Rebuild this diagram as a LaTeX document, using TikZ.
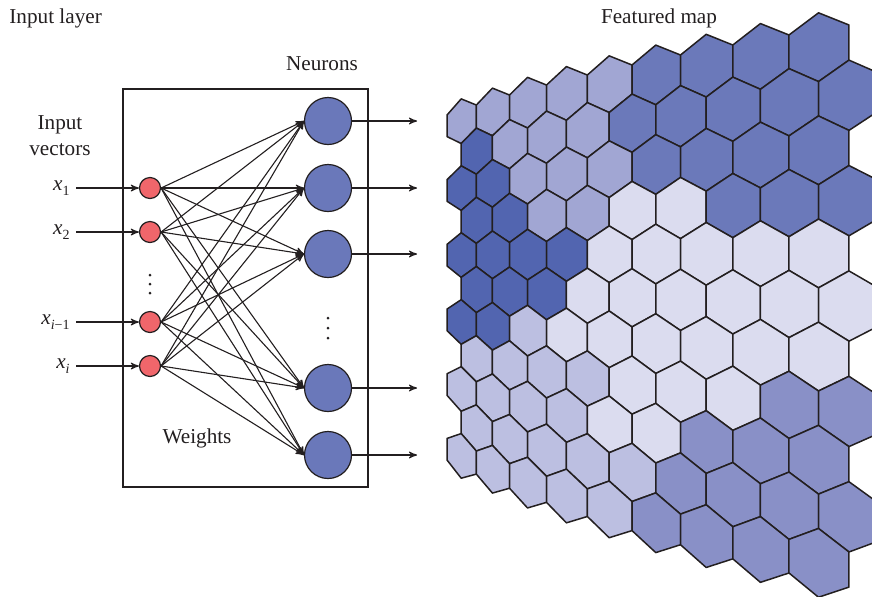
\documentclass[tikz,border=0pt]{standalone}
\usepackage{fontspec}
\setmainfont{Liberation Serif}
\usetikzlibrary{arrows}
\usetikzlibrary{positioning}

\definecolor{ink}{RGB}{35,31,32}
\definecolor{inred}{RGB}{240,102,107}
\definecolor{neublue}{RGB}{106,120,186}
\definecolor{mapD}{RGB}{82,101,176}
\definecolor{mapL}{RGB}{161,166,211}
\definecolor{mapM}{RGB}{107,121,186}
\definecolor{mapV}{RGB}{219,220,239}
\definecolor{mapP}{RGB}{188,191,225}
\definecolor{mapQ}{RGB}{137,144,199}

\newcommand{\xsub}[1]{\textit{x}\raisebox{-0.5ex}{\fontsize{7}{8}\selectfont #1}}

\begin{document}
\begin{tikzpicture}[x=0.5pt,y=-0.5pt,>=stealth',
    declare function={mapx(\p)=447+13.71*\p+0.479*\p*\p;
      mapy(\p,\q)=287.5+1.03*\p-\q*(18.67+0.653*\p);}]
		\tikzset{lbl/.style = {text=ink, inner sep=2pt, font=\fontsize{10.6}{13}\selectfont},
			inp/.style = {shape=circle, draw=ink, fill=inred, line width=0.6pt, minimum size=10.5pt, inner sep=0pt},
			neuron/.style = {shape=circle, draw=ink, fill=neublue, line width=0.6pt, minimum size=23.5pt, inner sep=0pt},
			wire/.style = {->, draw=ink, line width=0.55pt},
			cell/.style = {fill=#1, draw=ink, line width=0.75pt, line join=round}}
		\useasboundingbox (0,0) rectangle (872,596);

		% headings
		\node[lbl, anchor=west] (title) at (5,18) {Input layer};
		\node[lbl] (neulbl) at (322,64) {Neurons};
		\node[lbl] (maplbl) at (659,18) {Featured map};
		\node[lbl, align=center] (vec) at (60,136) {Input\\vectors};

		% box round the weights
		\draw[ink, line width=0.6pt] (123,89) rectangle (368,487);
		\node[lbl] (wts) at (197,438) {Weights};

		% input layer
		\node[inp] (in1) at (150,188) {};
		\node[inp] (in2) at (150,232) {};
		\node[inp] (in3) at (150,322) {};
		\node[inp] (in4) at (150,366) {};
		\foreach \d in {275,284,293}
			\fill[ink] (150,\d) circle (0.75pt);
		\node[lbl, anchor=east, inner sep=3pt] (x1) at (76,188) {\xsub{1}};
		\node[lbl, anchor=east, inner sep=3pt] (x2) at (76,232) {\xsub{2}};
		\node[lbl, anchor=east, inner sep=3pt] (x3) at (76,322) {\xsub{\textit{i}−1}};
		\node[lbl, anchor=east, inner sep=3pt] (x4) at (76,366) {\xsub{\textit{i}}};
		\foreach \i in {1,...,4}
			\draw[wire] (x\i.east) -- (in\i);

		% neurons
		\node[neuron] (neu1) at (328,121) {};
		\node[neuron] (neu2) at (328,188) {};
		\node[neuron] (neu3) at (328,254) {};
		\node[neuron] (neu4) at (328,388) {};
		\node[neuron] (neu5) at (328,455) {};
		\foreach \d in {318,328,338}
			\fill[ink] (328,\d) circle (0.75pt);

		\foreach \i in {1,...,4}
			\foreach \j in {1,...,5}
				\draw[wire] (in\i.east) -- (neu\j.west);
		\foreach \j in {1,...,5} {
			\coordinate[right=32.5pt of neu\j] (out\j);
			\draw[wire] (neu\j) -- (out\j);
		}

		% feature map
		\begin{scope}
			\clip (0,0) rectangle (872,596);
			\foreach \r/\row in {1/{L,L,L,L,L,M,M,M,M}, 2/{D,L,L,L,M,M,M,M,M},
				3/{D,D,L,L,L,M,M,M,M}, 4/{D,D,L,L,V,V,M,M,M}, 5/{D,D,D,D,V,V,V,V,V},
				6/{D,D,D,V,V,V,V,V,V}, 7/{D,D,P,V,V,V,V,V,V}, 8/{P,P,P,P,V,V,V,Q,Q},
				9/{P,P,P,P,V,V,Q,Q,Q}, 10/{P,P,P,P,P,Q,Q,Q,Q}, 11/{P,P,P,P,P,Q,Q,Q,Q}} {
				\foreach \f [count=\c] in \row {
					\pgfmathsetmacro{\hu}{2*\c-1+mod(\r+1,2)}
					\pgfmathsetmacro{\hw}{(6-\r)*1.7321}
					\draw[cell=map\f] ({mapx(\hu)},{mapy(\hu,\hw+1.1547)})
						-- ({mapx(\hu+1)},{mapy(\hu+1,\hw+0.5774)})
						-- ({mapx(\hu+1)},{mapy(\hu+1,\hw-0.5774)})
						-- ({mapx(\hu)},{mapy(\hu,\hw-1.1547)})
						-- ({mapx(\hu-1)},{mapy(\hu-1,\hw-0.5774)})
						-- ({mapx(\hu-1)},{mapy(\hu-1,\hw+0.5774)}) -- cycle;
				}
			}
		\end{scope}
\end{tikzpicture}
\end{document}
